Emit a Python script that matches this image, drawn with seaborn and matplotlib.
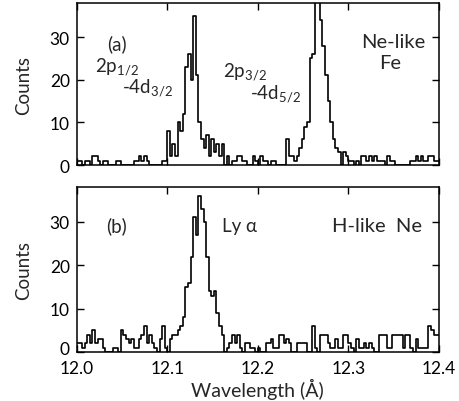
import numpy as np
import pandas as pd
import seaborn as sns
import matplotlib
matplotlib.use('Agg')
import matplotlib.pyplot as plt
import matplotlib.transforms as mtransforms

# wavelength bins: 140 bins from 12.0 to 12.4 A
n_bins = 140
edges = np.linspace(12.0, 12.4, n_bins + 1)
centers = (edges[:-1] + edges[1:]) / 2

# (a) Ne-like Fe counts per bin
counts_fe = [1, 1, 0, 1, 1, 0, 2, 2, 1, 0, 1, 1, 0, 0, 0, 1, 1, 0, 0, 0,
             0, 0, 1, 1, 2, 1, 2, 1, 0, 0, 0, 0, 0, 1, 1, 8, 2, 5, 2, 10,
             8, 12, 23, 26, 20, 35, 21, 10, 6, 4, 7, 2, 6, 3, 5, 2, 5, 0, 2, 0,
             1, 1, 2, 2, 1, 1, 0, 0, 2, 1, 0, 2, 1, 1, 0, 1, 1, 0, 0, 0,
             0, 6, 2, 2, 1, 2, 4, 6, 9, 10, 25, 26, 40, 40, 34, 28, 21, 15, 10, 6,
             4, 3, 0, 3, 2, 1, 1, 0, 1, 0, 2, 2, 1, 2, 1, 2, 1, 1, 1, 0,
             2, 1, 1, 0, 0, 0, 0, 0, 0, 1, 1, 2, 1, 2, 1, 1, 2, 2, 1, 1]

# (b) H-like Ne counts per bin
counts_ne = [2, 2, 1, 2, 4, 2, 5, 2, 3, 3, 1, 0, 0, 0, 1, 1, 0, 5, 4, 3,
             2, 3, 1, 1, 3, 4, 6, 2, 4, 2, 1, 0, 3, 6, 1, 0, 3, 4, 4, 5,
             6, 8, 15, 16, 22, 31, 27, 36, 33, 30, 22, 14, 13, 14, 9, 6, 4, 0, 1, 2,
             4, 2, 4, 1, 0, 2, 2, 1, 1, 0, 1, 0, 0, 2, 2, 3, 1, 1, 4, 4,
             2, 3, 2, 0, 0, 2, 2, 2, 2, 0, 0, 6, 1, 0, 4, 4, 4, 2, 1, 1,
             3, 1, 1, 4, 4, 2, 1, 0, 3, 1, 1, 2, 1, 2, 1, 0, 0, 4, 4, 4,
             1, 1, 4, 4, 4, 4, 1, 4, 4, 1, 0, 3, 1, 1, 1, 1, 6, 5, 4, 4]

x_ticks = [12.0, 12.1, 12.2, 12.3, 12.4]
x_labels = ['12.0', '12.1', '12.2', '12.3', '12.4']
y_ticks = [0, 10, 20, 30]

sns.set_style('ticks')
plt.rcParams['font.family'] = ['Lato', 'DejaVu Sans']
plt.rcParams['mathtext.fontset'] = 'custom'
plt.rcParams['mathtext.rm'] = 'Lato'
plt.rcParams['mathtext.it'] = 'Lato'

fig = plt.figure(figsize=(4.6, 4.02), dpi=100)
ax_a = fig.add_axes([0.167, 0.587, 0.787, 0.403])
ax_b = fig.add_axes([0.167, 0.122, 0.787, 0.410])

for ax, counts in [(ax_a, counts_fe), (ax_b, counts_ne)]:
    df = pd.DataFrame({'wavelength': centers, 'counts': counts})
    sns.histplot(data=df, x='wavelength', weights='counts', bins=n_bins,
                 binrange=(12.0, 12.4), element='step', fill=False,
                 color='black', linewidth=1.2, ax=ax)
    ax.set_xlim(12.0, 12.4)
    ax.set_ylim(0, 38)
    ax.set_xticks(x_ticks)
    ax.set_yticks(y_ticks)
    ax.tick_params(direction='in', top=True, right=True, length=5, width=1,
                   labelsize=12.5, colors='black')
    ax.tick_params(axis='x', pad=6)
    ax.tick_params(axis='y', pad=5)
    for s in ax.spines.values():
        s.set_linewidth(1.1)
        s.set_color('black')
    ax.set_ylabel('Counts', fontsize=13.5, labelpad=13)

ax_a.set_xlabel('')
ax_a.tick_params(labelbottom=False)
ax_b.set_xticklabels(x_labels)
ax_b.set_xlabel('Wavelength (Å)', fontsize=14, labelpad=1)

# lift the bottom "0" a little so it clears "12.0"
zero_lbl = ax_b.get_yticklabels()[0]
zero_lbl.set_transform(zero_lbl.get_transform() +
                       mtransforms.ScaledTranslation(0, 3 / 72, fig.dpi_scale_trans))

fs = 13.5
ta = ax_a.transAxes
ax_a.text(0.11, 0.75, '(a)', transform=ta, fontsize=fs, ha='center', va='center')
ax_a.text(0.05, 0.61, r'2p$_{1/2}$', transform=ta, fontsize=fs, ha='left', va='center')
ax_a.text(0.124, 0.48, r'-4d$_{3/2}$', transform=ta, fontsize=fs, ha='left', va='center')
ax_a.text(0.403, 0.58, r'2p$_{3/2}$', transform=ta, fontsize=fs, ha='left', va='center')
ax_a.text(0.478, 0.44, r'-4d$_{5/2}$', transform=ta, fontsize=fs, ha='left', va='center')
ax_a.text(0.873, 0.76, 'Ne-like', transform=ta, fontsize=14.5, ha='center', va='center')
ax_a.text(0.865, 0.635, 'Fe', transform=ta, fontsize=14.5, ha='center', va='center')

tb = ax_b.transAxes
ax_b.text(0.11, 0.77, '(b)', transform=tb, fontsize=fs, ha='center', va='center')
ax_b.text(0.40, 0.77, 'Ly α', transform=tb, fontsize=fs, ha='left', va='center')
ax_b.text(0.83, 0.77, 'H-like  Ne', transform=tb, fontsize=14.5, ha='center', va='center')

fig.savefig('out.png', dpi=100)
